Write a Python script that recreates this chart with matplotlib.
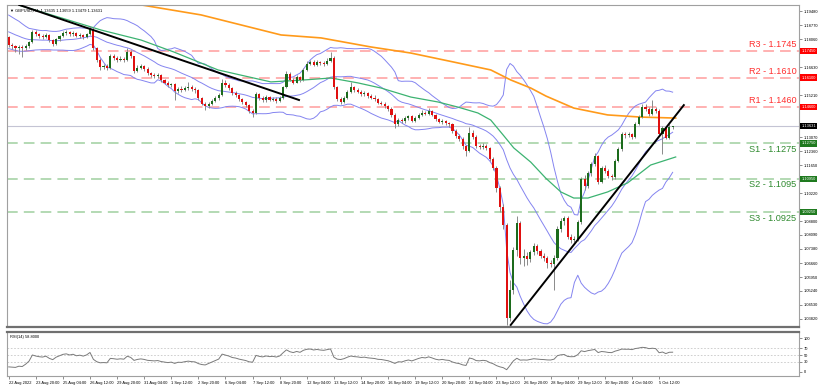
import matplotlib.pyplot as plt
import matplotlib.transforms as mtransforms
import numpy as np
import pandas as pd

plt.rcParams['font.family'] = ['Liberation Sans', 'DejaVu Sans']

# --- data (4h bars, GBPUSD) ---
pre_closes = [1.1925, 1.1915, 1.1900, 1.1905, 1.1888, 1.1870, 1.1858, 1.1850, 1.1838, 1.1830,
              1.1820, 1.1828, 1.1815, 1.1808, 1.1800, 1.1795, 1.1806, 1.1812, 1.1816]
first_open = 1.1816

closes = [
    1.1778, 1.1770, 1.1762, 1.1768, 1.1760, 1.1772, 1.1790, 1.1842, 1.1830, 1.1822,
    1.1818, 1.1826, 1.1800, 1.1782, 1.1805, 1.1820, 1.1836, 1.1842, 1.1830, 1.1838,
    1.1822, 1.1828, 1.1818, 1.1830, 1.1858, 1.1760, 1.1700, 1.1665, 1.1668, 1.1660,
    1.1720, 1.1712, 1.1700, 1.1706, 1.1698, 1.1740, 1.1718, 1.1645, 1.1660, 1.1668,
    1.1655, 1.1632, 1.1625, 1.1618, 1.1622, 1.1598, 1.1585, 1.1570, 1.1575, 1.1540,
    1.1552, 1.1548, 1.1555, 1.1560, 1.1550, 1.1545, 1.1505, 1.1478, 1.1465, 1.1478,
    1.1492, 1.1505, 1.1520, 1.1585, 1.1570, 1.1555, 1.1530, 1.1520, 1.1500, 1.1485,
    1.1470, 1.1440, 1.1430, 1.1525, 1.1505, 1.1495, 1.1510, 1.1498, 1.1502, 1.1490,
    1.1505, 1.1560, 1.1630, 1.1600, 1.1585, 1.1612, 1.1598, 1.1650, 1.1680, 1.1690,
    1.1675, 1.1690, 1.1682, 1.1678, 1.1695, 1.1712, 1.1560, 1.1500, 1.1488, 1.1505,
    1.1535, 1.1560, 1.1545, 1.1538, 1.1525, 1.1530, 1.1515, 1.1508, 1.1500, 1.1482,
    1.1478, 1.1465, 1.1450, 1.1420, 1.1375, 1.1395, 1.1388, 1.1402, 1.1412, 1.1390,
    1.1405, 1.1420, 1.1432, 1.1425, 1.1438, 1.1420, 1.1398, 1.1385, 1.1390, 1.1378,
    1.1372, 1.1340, 1.1315, 1.1300, 1.1260, 1.1238, 1.1330, 1.1310, 1.1262, 1.1255,
    1.1262, 1.1250, 1.1195, 1.1150, 1.1050, 1.0950, 1.0860, 1.0385, 1.0530, 1.0730,
    1.0870, 1.0690, 1.0700, 1.0685, 1.0720, 1.0755, 1.0725, 1.0702, 1.0690, 1.0665,
    1.0660, 1.0690, 1.0840, 1.0880, 1.0895, 1.0800, 1.0785, 1.0790, 1.0875, 1.1095,
    1.1060, 1.1125, 1.1170, 1.1210, 1.1080, 1.1150, 1.1135, 1.1110, 1.1102, 1.1185,
    1.1245, 1.1325, 1.1318, 1.1322, 1.1310, 1.1375, 1.1410, 1.1460, 1.1452, 1.1425,
    1.1450, 1.1440, 1.1325, 1.1355, 1.1305, 1.1360, 1.1363,
]
highs = [
    1.1824, 1.1786, 1.1778, 1.1775, 1.1776, 1.1780, 1.1798, 1.1852, 1.1850, 1.1838,
    1.1832, 1.1835, 1.1830, 1.1808, 1.1812, 1.1828, 1.1845, 1.1852, 1.1848, 1.1846,
    1.1842, 1.1836, 1.1834, 1.1838, 1.1875, 1.1868, 1.1765, 1.1708, 1.1678, 1.1680,
    1.1728, 1.1732, 1.1720, 1.1718, 1.1714, 1.1760, 1.1748, 1.1722, 1.1672, 1.1680,
    1.1675, 1.1662, 1.1640, 1.1635, 1.1632, 1.1628, 1.1605, 1.1592, 1.1585, 1.1580,
    1.1562, 1.1565, 1.1568, 1.1590, 1.1572, 1.1562, 1.1550, 1.1512, 1.1485, 1.1488,
    1.1500, 1.1515, 1.1530, 1.1605, 1.1598, 1.1580, 1.1562, 1.1540, 1.1526, 1.1508,
    1.1492, 1.1478, 1.1452, 1.1535, 1.1532, 1.1515, 1.1520, 1.1518, 1.1512, 1.1510,
    1.1515, 1.1568, 1.1642, 1.1638, 1.1610, 1.1622, 1.1620, 1.1660, 1.1692, 1.1700,
    1.1698, 1.1700, 1.1696, 1.1692, 1.1708, 1.1738, 1.1722, 1.1568, 1.1510, 1.1515,
    1.1545, 1.1590, 1.1568, 1.1556, 1.1545, 1.1540, 1.1536, 1.1525, 1.1520, 1.1508,
    1.1492, 1.1485, 1.1472, 1.1458, 1.1428, 1.1405, 1.1402, 1.1412, 1.1420, 1.1418,
    1.1415, 1.1430, 1.1445, 1.1440, 1.1455, 1.1446, 1.1426, 1.1405, 1.1398, 1.1395,
    1.1385, 1.1378, 1.1348, 1.1322, 1.1308, 1.1268, 1.1360, 1.1342, 1.1318, 1.1272,
    1.1275, 1.1270, 1.1258, 1.1205, 1.1160, 1.1060, 1.0965, 1.0870, 1.0580, 1.0748,
    1.0905, 1.0880, 1.0740, 1.0720, 1.0735, 1.0770, 1.0765, 1.0740, 1.0715, 1.0700,
    1.0680, 1.0705, 1.0855, 1.0895, 1.0905, 1.0905, 1.0812, 1.0805, 1.0885, 1.1105,
    1.1115, 1.1135, 1.1180, 1.1225, 1.1218, 1.1162, 1.1165, 1.1145, 1.1120, 1.1195,
    1.1255, 1.1335, 1.1335, 1.1332, 1.1330, 1.1385, 1.1422, 1.1478, 1.1475, 1.1462,
    1.1496, 1.1460, 1.1448, 1.1365, 1.1362, 1.1372, 1.1366,
]
lows = [
    1.1765, 1.1755, 1.1740, 1.1730, 1.1717, 1.1748, 1.1762, 1.1785, 1.1822, 1.1812,
    1.1808, 1.1810, 1.1792, 1.1770, 1.1776, 1.1798, 1.1815, 1.1828, 1.1822, 1.1824,
    1.1815, 1.1814, 1.1806, 1.1812, 1.1825, 1.1752, 1.1690, 1.1650, 1.1655, 1.1648,
    1.1655, 1.1702, 1.1690, 1.1694, 1.1688, 1.1692, 1.1710, 1.1635, 1.1640, 1.1652,
    1.1645, 1.1625, 1.1612, 1.1608, 1.1610, 1.1590, 1.1575, 1.1560, 1.1562, 1.1497,
    1.1532, 1.1538, 1.1540, 1.1548, 1.1540, 1.1530, 1.1495, 1.1468, 1.1445, 1.1455,
    1.1470, 1.1485, 1.1498, 1.1515, 1.1560, 1.1545, 1.1522, 1.1510, 1.1490, 1.1475,
    1.1460, 1.1430, 1.1407, 1.1425, 1.1495, 1.1485, 1.1488, 1.1490, 1.1490, 1.1482,
    1.1485, 1.1500, 1.1555, 1.1592, 1.1575, 1.1580, 1.1590, 1.1592, 1.1645, 1.1672,
    1.1668, 1.1670, 1.1675, 1.1670, 1.1672, 1.1690, 1.1550, 1.1490, 1.1478, 1.1480,
    1.1500, 1.1530, 1.1535, 1.1530, 1.1515, 1.1518, 1.1505, 1.1500, 1.1490, 1.1474,
    1.1470, 1.1455, 1.1440, 1.1410, 1.1352, 1.1365, 1.1378, 1.1380, 1.1395, 1.1382,
    1.1385, 1.1400, 1.1415, 1.1418, 1.1420, 1.1412, 1.1390, 1.1378, 1.1376, 1.1370,
    1.1360, 1.1330, 1.1305, 1.1285, 1.1245, 1.1212, 1.1230, 1.1300, 1.1252, 1.1245,
    1.1248, 1.1240, 1.1185, 1.1140, 1.1030, 1.0925, 1.0838, 1.0351, 1.0370, 1.0510,
    1.0700, 1.0660, 1.0650, 1.0655, 1.0670, 1.0705, 1.0712, 1.0690, 1.0675, 1.0640,
    1.0645, 1.0528, 1.0680, 1.0825, 1.0860, 1.0790, 1.0770, 1.0775, 1.0780, 1.0865,
    1.1040, 1.1050, 1.1110, 1.1160, 1.1070, 1.1072, 1.1125, 1.1098, 1.1090, 1.1095,
    1.1178, 1.1238, 1.1305, 1.1308, 1.1300, 1.1305, 1.1368, 1.1402, 1.1440, 1.1415,
    1.1420, 1.1430, 1.1315, 1.1220, 1.1295, 1.1298, 1.1348,
]

x_labels = ['22 Aug 2022', '23 Aug 20:00', '25 Aug 04:00', '26 Aug 12:00', '29 Aug 20:00',
            '31 Aug 04:00', '1 Sep 12:00', '2 Sep 20:00', '6 Sep 04:00', '7 Sep 12:00',
            '8 Sep 20:00', '12 Sep 04:00', '13 Sep 12:00', '14 Sep 20:00', '16 Sep 04:00',
            '19 Sep 12:00', '20 Sep 20:00', '22 Sep 04:00', '23 Sep 12:00', '26 Sep 20:00',
            '28 Sep 04:00', '29 Sep 12:00', '30 Sep 20:00', '4 Oct 04:00', '5 Oct 12:00']
bars_per_label = 8

price_ticks = [1.19480, 1.18770, 1.18060, 1.17340, 1.16630, 1.15920, 1.15210, 1.14500,
               1.13780, 1.13070, 1.12360, 1.11650, 1.10940, 1.10220, 1.09510, 1.08800,
               1.08090, 1.07380, 1.06660, 1.05950, 1.05240, 1.04530, 1.03820]

# moving averages (bar index, price)
ma_green_idx = [2.8, 17.6, 27.3, 39.1, 48.8, 61.8, 77.4, 87.2, 95.1, 103.1, 109.9, 118.7,
                126.7, 132.6, 138.5, 142.3, 146.2, 149.1, 154.1, 158.5, 163.0, 166.8, 171.0,
                176.8, 182.7, 189.5, 196.9]
ma_green = [1.1980, 1.1903, 1.1852, 1.1801, 1.1740, 1.1649, 1.1588, 1.1598, 1.1608, 1.1583,
            1.1557, 1.1511, 1.1486, 1.1460, 1.1430, 1.1394, 1.1313, 1.1252, 1.1180, 1.1099,
            1.1028, 1.0997, 1.0997, 1.1028, 1.1074, 1.1165, 1.1206]
ma_orange_idx = [39.1, 56.8, 80.4, 92.2, 106.9, 118.7, 131.4, 142.3, 148.2, 154.1, 158.6,
                 166.8, 176.8, 186.6, 196.9]
ma_orange = [1.1980, 1.1929, 1.1827, 1.1812, 1.1766, 1.1735, 1.1689, 1.1649, 1.1598, 1.1557,
             1.1516, 1.1455, 1.1420, 1.1409, 1.1404]

trend_down_idx = [3.1, 85.7]
trend_down = [1.1980, 1.1496]
trend_up_idx = [148.2, 199.3]
trend_up = [1.0351, 1.1470]

res_names = ['R3', 'R2', 'R1']
res_levels = [1.1745, 1.1610, 1.1460]
sup_names = ['S1', 'S2', 'S3']
sup_levels = [1.1275, 1.1095, 1.0925]
last_price = 1.13631
title_text = '\u25bc GBPUSD,H4  1.13635 1.13659 1.13479 1.13631'
rsi_text = 'RSI(14) 58.8000'

small = 2.9  # tiny platform-style labels

# --- indicators ---
n_pre = len(pre_closes)
all_closes = pd.Series(pre_closes + closes)
bb_mid = all_closes.rolling(20).mean().iloc[n_pre:].values
bb_sd = all_closes.rolling(20).std(ddof=0).iloc[n_pre:].values
delta = all_closes.diff()
avg_gain = delta.clip(lower=0).ewm(alpha=1 / 14, adjust=False).mean()
avg_loss = (-delta.clip(upper=0)).ewm(alpha=1 / 14, adjust=False).mean()
rsi = (100 - 100 / (1 + avg_gain / avg_loss)).iloc[n_pre:].values

closes = np.array(closes)
opens = np.array([first_open] + list(closes[:-1]))
highs = np.array(highs)
lows = np.array(lows)
idx = np.arange(len(closes))

# --- figure ---
fig = plt.figure(figsize=(8.22, 3.87), dpi=100)
ax = fig.add_axes([7 / 822, 60 / 387, 792 / 822, 322 / 387])
ax_rsi = fig.add_axes([7 / 822, 11 / 387, 792 / 822, 44 / 387], sharex=ax)

frame = '#a0a0a0'
for a in (ax, ax_rsi):
    for s in a.spines.values():
        s.set_color(frame)
        s.set_linewidth(0.8)
    a.yaxis.tick_right()
    a.tick_params(axis='y', labelsize=small, length=2, width=0.5, color='#606060', pad=1.5)
ax.spines['bottom'].set_color('#707070')
ax.spines['bottom'].set_linewidth(1.6)
ax_rsi.spines['top'].set_color('#707070')
ax_rsi.spines['top'].set_linewidth(1.6)

lvl_tr = mtransforms.blended_transform_factory(ax.transAxes, ax.transData)

# levels
for name, lvl in zip(res_names, res_levels):
    ax.axhline(lvl, color='#ff9c9c', lw=1.1, ls=(0, (7, 4)), zorder=1)
    ax.text(0.997, lvl + 0.0031, f'{name} - {lvl:.4f}', transform=lvl_tr,
            ha='right', va='center', fontsize=6.6, color='#ff3030', zorder=6)
for name, lvl in zip(sup_names, sup_levels):
    ax.axhline(lvl, color='#9fd09f', lw=1.1, ls=(0, (7, 4)), zorder=1)
    ax.text(0.997, lvl - 0.0031, f'{name} - {lvl:.4f}', transform=lvl_tr,
            ha='right', va='center', fontsize=6.6, color='#2f8a2f', zorder=6)
ax.axhline(last_price, color='#c4c4d4', lw=0.8, zorder=1)

# indicators
ax.plot(idx, bb_mid + 2 * bb_sd, color='#8484f0', lw=0.7, zorder=2)
ax.plot(idx, bb_mid, color='#8484f0', lw=0.7, zorder=2)
ax.plot(idx, bb_mid - 2 * bb_sd, color='#8484f0', lw=0.7, zorder=2)
ax.plot(ma_green_idx, ma_green, color='#3cb371', lw=0.9, zorder=2)
ax.plot(ma_orange_idx, ma_orange, color='#ff9a1a', lw=1.2, zorder=2)

# candles
up = closes >= opens
ax.vlines(idx, lows, highs, color='#8a8a8a', lw=0.7, zorder=3)
body_lo = np.minimum(opens, closes)
body_h = np.maximum(np.abs(closes - opens), 0.00025)
ax.bar(idx[up], body_h[up], bottom=body_lo[up], width=0.62, color='#1c6b1c', zorder=4)
ax.bar(idx[~up], body_h[~up], bottom=body_lo[~up], width=0.62, color='#e01010', zorder=4)

# trendlines
ax.plot(trend_down_idx, trend_down, color='black', lw=1.4, zorder=5)
ax.plot(trend_up_idx, trend_up, color='black', lw=1.4, zorder=5)

ax.set_ylim(1.03406, 1.19795)
ax.set_xlim(-0.5, 233.3)

# axis ticks hidden behind the price boxes are left out
box_levels = res_levels + sup_levels + [last_price]
shown_ticks = [t for t in price_ticks if min(abs(t - b) for b in box_levels) > 0.0028]
ax.set_yticks(shown_ticks)
ax.set_yticklabels([f'{v:.5f}' for v in shown_ticks])
ax.tick_params(axis='x', bottom=False, labelbottom=False)

# price boxes on the axis
for lvl in res_levels:
    ax.text(1.003, lvl, f'{lvl:.5f}', transform=lvl_tr, fontsize=small, color='white', ha='left', va='center',
            bbox=dict(facecolor='#ff0000', edgecolor='none', pad=0.9), clip_on=False, zorder=7)
for lvl in sup_levels:
    ax.text(1.003, lvl, f'{lvl:.5f}', transform=lvl_tr, fontsize=small, color='white', ha='left', va='center',
            bbox=dict(facecolor='#1f7a1f', edgecolor='none', pad=0.9), clip_on=False, zorder=7)
ax.text(1.003, last_price, f'{last_price:.5f}', transform=lvl_tr, fontsize=small, color='white', ha='left', va='center',
        bbox=dict(facecolor='black', edgecolor='none', pad=0.9), clip_on=False, zorder=7)

ax.text(0.004, 0.99, title_text, transform=ax.transAxes, fontsize=small, ha='left', va='top', zorder=8)

# RSI
for lvl in (70, 50, 30):
    ax_rsi.axhline(lvl, color='#c8c8c8', lw=0.6, ls=(0, (2, 2)))
ax_rsi.plot(idx, rsi, color='#7a7a7a', lw=0.7)
ax_rsi.set_ylim(-12, 118)
ax_rsi.set_yticks([100, 70, 50, 30, 0])
ax_rsi.text(0.004, 0.93, rsi_text, transform=ax_rsi.transAxes, fontsize=small, ha='left', va='top')

tick_pos = [k * bars_per_label for k in range(len(x_labels))]
ax_rsi.set_xticks(tick_pos)
ax_rsi.set_xticklabels(x_labels, ha='left')
ax_rsi.tick_params(axis='x', labelsize=small, length=2, width=0.5, color='#606060', pad=1.5)

fig.savefig('out.png', dpi=100)
